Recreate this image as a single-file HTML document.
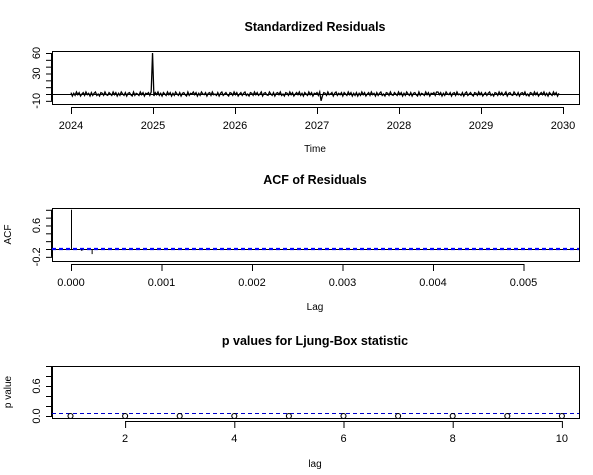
<!DOCTYPE html>
<html><head><meta charset="utf-8"><style>
body{margin:0;background:#fff;}
svg{font-family:"Liberation Sans",Arial,sans-serif;}
</style></head><body>
<svg id="c" width="593" height="470"></svg>
<script>
// Panel 1 data: standardized residuals (approximate), time from 2024.0 to 2029.95
const residStart = 2024.0;
const residEnd = 2029.95;
const residValues = [
 2,-3,1,-2,3,-1,2,-3,0,2,-2,3,-1,1,-3,2,-2,1,3,-2,0,-3,2,1,-2,3,-1,-2,2,0,
 -2,3,-1,2,-3,1,-2,3,0,-2,2,-3,1,2,-1,-3,3,-2,1,0,-2,3,-1,2,-3,1,0,2,-2,3,
 60,-3,2,-1,3,-2,1,-3,2,0,-2,3,-1,2,-3,1,-2,3,0,-2,2,-3,1,2,-1,-3,3,-2,1,0,
 3,-1,2,-3,1,-2,3,0,-1,2,-3,1,2,-2,3,-1,0,-2,2,-3,1,3,-2,0,2,-1,-3,2,1,-2,
 3,-1,2,-3,0,2,-2,1,3,-2,0,-3,2,1,-2,3,-1,2,-2,0,3,-3,1,2,-1,-2,3,0,-2,2,
 -3,1,2,-1,3,-2,0,-3,2,1,-2,3,-1,2,-3,0,2,-1,3,-2,1,-3,2,0,-2,3,-1,2,-3,1,
 0,2,-2,3,-10,-3,2,1,-2,3,-1,0,2,-3,1,3,-2,1,-1,2,-3,2,0,-2,3,-1,2,-3,1,-2,
 2,-3,1,-2,3,-1,2,-3,0,2,-2,3,-1,1,-3,2,-2,1,3,-2,0,-3,2,1,-2,3,-1,-2,2,0,
 -2,3,-1,2,-3,1,-2,3,0,-2,2,-3,1,2,-1,-3,3,-2,1,0,-2,3,-1,2,-3,1,0,2,-2,3,
 3,-1,2,-3,1,-2,3,0,-1,2,-3,1,2,-2,3,-1,0,-2,2,-3,1,3,-2,0,2,-1,-3,2,1,-2,
 3,-1,2,-3,0,2,-2,1,3,-2,0,-3,2,1,-2,3,-1,2,-2,0,3,-3,1,2,-1,-2,3,0,-2,2,
 -3,1,2,-1,3,-2,0,-3,2,1,-2,3,-1,2,-3,0,2,-1,3,-2,1,-3,2,0,-2,3,-1,2,-3,1];
const yTicks1 = [-10,0,10,20,30,40,50,60];
const yLabels1 = [-10,30,60];
const xTicks1 = [2024,2025,2026,2027,2028,2029,2030];
// Panel 2: ACF
const acfLags = [0,0.000114,0.000228];
const acfValues = [1.0,-0.05,-0.13];
const acfCI = 0.012;
const xTicks2 = [0,0.001,0.002,0.003,0.004,0.005];
const xLabels2 = ["0.000","0.001","0.002","0.003","0.004","0.005"];
const yTicks2 = [-0.2,0,0.2,0.4,0.6,0.8,1.0];
const yLabels2 = ["-0.2","0.6"];
// Panel 3: Ljung-Box p-values
const lbLags = [1,2,3,4,5,6,7,8,9,10];
const lbP = [0,0,0,0,0,0,0,0,0,0];
const xTicks3 = [2,4,6,8,10];
const yTicks3 = [0,0.2,0.4,0.6,0.8,1.0];
const yLabels3 = ["0.0","0.6"];

const svg=document.getElementById('c');
const NS='http://www.w3.org/2000/svg';
function mk(t,a,p){const e=document.createElementNS(NS,t);for(const k in a)e.setAttribute(k,a[k]);(p||svg).appendChild(e);return e;}
function txt(s,x,y,a,p){const e=mk('text',Object.assign({x:x,y:y,'font-size':11,'text-anchor':'middle',fill:'#000'},a||{}),p);e.textContent=s;return e;}
const L=52,R=579;

function panel(name,top,bot,title,titleY,xlab,xlabY,ylab){
  const g=mk('g',{});
  
  
  const box=mk('rect',{x:L+0.5,y:top+0.5,width:R-L,height:bot-top,fill:'none',stroke:'#000'},g);
  
  
  const t=txt(title,315,titleY,{'font-size':12.5,'font-weight':'bold'},g);
  
  
  const xl=txt(xlab,315,xlabY,{'font-size':10},g);
  
  
  if(ylab){const yl=txt(ylab,0,0,{'font-size':10,transform:`translate(11,${(top+bot)/2}) rotate(-90)`},g);
    
    }
  return g;
}
function yAxis(g,ticks,labels,ys){
  const ax=mk('g',{},g);
  
  
  mk('line',{x1:L-0.5,x2:L-0.5,y1:ys(ticks[0]),y2:ys(ticks[ticks.length-1]),stroke:'#000'},ax);
  ticks.forEach(v=>mk('line',{x1:L-6,x2:L,y1:ys(v)+0.5,y2:ys(v)+0.5,stroke:'#000'},ax));
  labels.forEach(v=>{const y=ys(Number(v));txt(String(v),0,0,{transform:`translate(${L-12},${y}) rotate(-90)`},ax);});
}
function xAxis(g,ticks,labels,xs,bot,labY){
  const ax=mk('g',{},g);
  
  
  mk('line',{x1:xs(ticks[0]),x2:xs(ticks[ticks.length-1]),y1:bot+3.5,y2:bot+3.5,stroke:'#000'},ax);
  ticks.forEach((v,i)=>{mk('line',{x1:xs(v)+0.5,x2:xs(v)+0.5,y1:bot+3,y2:bot+10,stroke:'#000'},ax);
    txt(labels[i],xs(v),labY,{},ax);});
}

// Panel 1
{const top=51,bot=104;
 const xs=v=>71+(v-2024)*82, ys=v=>94-v*(41/60);
 const g=panel('standardized-residuals-panel',top,bot,'Standardized Residuals',31,'Time',152,null);
 yAxis(g,yTicks1,yLabels1,ys);
 xAxis(g,xTicks1,xTicks1.map(String),xs,bot,129);
 mk('line',{x1:L,x2:R,y1:ys(0)+0.5,y2:ys(0)+0.5,stroke:'#000'},g);
 const n=residValues.length;
 let d='';
 residValues.forEach((v,i)=>{const x=xs(residStart+(residEnd-residStart)*i/(n-1));d+=(i?'L':'M')+x.toFixed(2)+' '+ys(v).toFixed(1);});
 const p=mk('path',{d:d,fill:'none',stroke:'#000','stroke-width':1.3},g);
 
 
}
// Panel 2
{const top=208,bot=261;
 const xs=v=>71+v*90500, ys=v=>249-v*39.2;
 const g=panel('acf-panel',top,bot,'ACF of Residuals',184,'Lag',310,'ACF');
 yAxis(g,yTicks2,yLabels2,ys);
 xAxis(g,xTicks2,xLabels2,xs,bot,286);
 mk('line',{x1:L,x2:R,y1:ys(0)+0.5,y2:ys(0)+0.5,stroke:'#000'},g);
 [acfCI,-acfCI].forEach(c=>{const l=mk('line',{x1:L,x2:R,y1:ys(c),y2:ys(c),stroke:'#0000ff','stroke-dasharray':'4,3','stroke-width':1.2},g);
   
   });
 acfLags.forEach((lag,i)=>{const l=mk('line',{x1:xs(lag)+0.5,x2:xs(lag)+0.5,y1:ys(0),y2:ys(acfValues[i]),stroke:'#000'},g);
   
   });
}
// Panel 3
{const top=366,bot=418;
 const xs=v=>70.5+(v-1)*54.6, ys=v=>416-v*50;
 const g=panel('ljung-box-panel',top,bot,'p values for Ljung-Box statistic',345,'lag',467,'p value');
 yAxis(g,yTicks3,yLabels3,ys);
 xAxis(g,xTicks3,xTicks3.map(String),xs,bot,442);
 const l=mk('line',{x1:L,x2:R,y1:ys(0.05),y2:ys(0.05),stroke:'#0000cc','stroke-dasharray':'4,3'},g);
 
 
 lbLags.forEach((lag,i)=>{const c=mk('circle',{cx:xs(lag),cy:ys(lbP[i]),r:2.5,fill:'none',stroke:'#000','stroke-width':1.1},g);
   
   });
}
</script>
</body></html>
